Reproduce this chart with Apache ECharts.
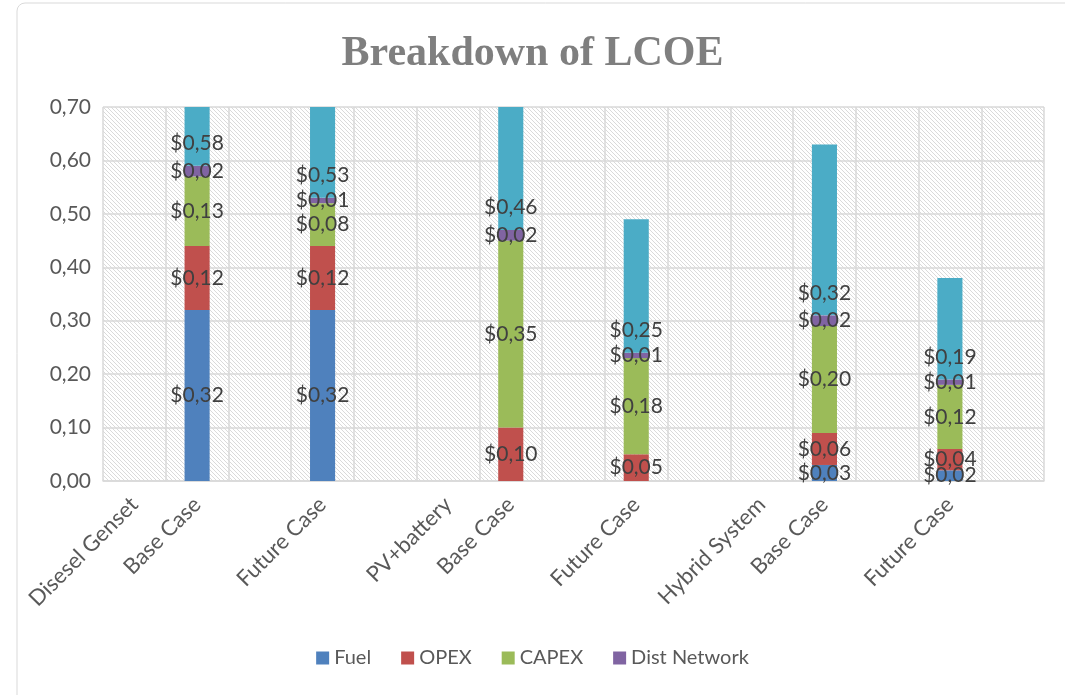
<!DOCTYPE html>
<html>
<head>
<meta charset="utf-8">
<script src="https://cdn.jsdelivr.net/npm/echarts@6/dist/echarts.min.js"></script>
<style>
  html, body { margin: 0; padding: 0; background: #fff; }
  #chart { width: 1065px; height: 695px; }
</style>
</head>
<body>
<div id="chart"></div>
<script>
// categories (empty slots keep the gaps between the groups)
const categories = ['Disesel Genset', 'Base Case', '', 'Future Case', '', 'PV+battery', 'Base Case', '',
                    'Future Case', '', 'Hybrid System', 'Base Case', '', 'Future Case', ''];

const fuel    = [null, 0.32, null, 0.32, null, null, null, null, null, null, null, 0.03, null, 0.02, null];
const opex    = [null, 0.12, null, 0.12, null, null, 0.10, null, 0.05, null, null, 0.06, null, 0.04, null];
const capex   = [null, 0.13, null, 0.08, null, null, 0.35, null, 0.18, null, null, 0.20, null, 0.12, null];
const network = [null, 0.02, null, 0.01, null, null, 0.02, null, 0.01, null, null, 0.02, null, 0.01, null];
const total   = [null, 0.58, null, 0.53, null, null, 0.46, null, 0.25, null, null, 0.32, null, 0.19, null];

const yTicks = { min: 0, max: 0.7, interval: 0.1 };

// hatched plot background
function hatch() {
    const c = document.createElement('canvas');
    c.width = 4; c.height = 4;
    const ctx = c.getContext('2d');
    ctx.fillStyle = '#ffffff';
    ctx.fillRect(0, 0, 4, 4);
    ctx.fillStyle = '#dadada';
    for (let i = 0; i < 4; i++) ctx.fillRect(i, i, 1, 1);
    return c;
}

const money = v => '$' + v.toFixed(2).replace('.', ',');
const labelFont = { fontFamily: 'Lato', fontSize: 21, color: '#404040' };

function stackSeries(name, data, color, label) {
    return {
        name: name,
        type: 'bar',
        stack: 'lcoe',
        data: data,
        barWidth: '40%',
        itemStyle: { color: color },
        label: Object.assign({
            show: true,
            position: 'inside',
            formatter: p => money(p.value)
        }, labelFont, label || {})
    };
}

const chart = echarts.init(document.getElementById('chart'));

chart.setOption({
    animation: false,
    title: {
        text: 'Breakdown of LCOE',
        left: 'center',
        top: 28,
        textStyle: { fontFamily: 'Liberation Serif', fontWeight: 'bold', fontSize: 42, color: '#7f7f7f' }
    },
    graphic: [{
        type: 'rect',
        shape: { x: 17, y: 3, width: 1060, height: 710, r: 8 },
        style: { fill: null, stroke: '#d9d9d9', lineWidth: 1 },
        silent: true
    }],
    legend: {
        data: ['Fuel', 'OPEX', 'CAPEX', 'Dist Network'],
        bottom: 22,
        left: 'center',
        icon: 'rect',
        itemWidth: 13,
        itemHeight: 13,
        itemGap: 30,
        textStyle: { fontFamily: 'Lato', fontSize: 20, color: '#595959' }
    },
    grid: {
        left: 103,
        right: 21,
        top: 107,
        bottom: 214,
        show: true,
        borderWidth: 0,
        backgroundColor: { image: hatch(), repeat: 'repeat' }
    },
    xAxis: {
        type: 'category',
        data: categories,
        axisLine: { lineStyle: { color: '#d9d9d9', width: 1.5 } },
        axisTick: { show: false },
        splitLine: { show: true, interval: 0, lineStyle: { color: '#d9d9d9', width: 1.5 } },
        axisLabel: {
            interval: 0,
            rotate: 45,
            margin: 20,
            fontFamily: 'Lato',
            fontSize: 22,
            color: '#595959'
        }
    },
    yAxis: {
        type: 'value',
        min: yTicks.min,
        max: yTicks.max,
        interval: yTicks.interval,
        axisLine: { show: false },
        axisTick: { show: false },
        splitLine: { lineStyle: { color: '#d9d9d9', width: 1.5 } },
        axisLabel: {
            margin: 12,
            fontFamily: 'Lato',
            fontSize: 21,
            color: '#595959',
            formatter: v => v.toFixed(2).replace('.', ',')
        }
    },
    series: [
        stackSeries('Fuel', fuel, '#4f81bd'),
        stackSeries('OPEX', opex, '#c0504d'),
        stackSeries('CAPEX', capex, '#9bbb59'),
        stackSeries('Dist Network', network, '#8064a2'),
        stackSeries('Total', total, '#4bacc6', { position: 'insideBottom', distance: 12 })
    ]
});
</script>
</body>
</html>
